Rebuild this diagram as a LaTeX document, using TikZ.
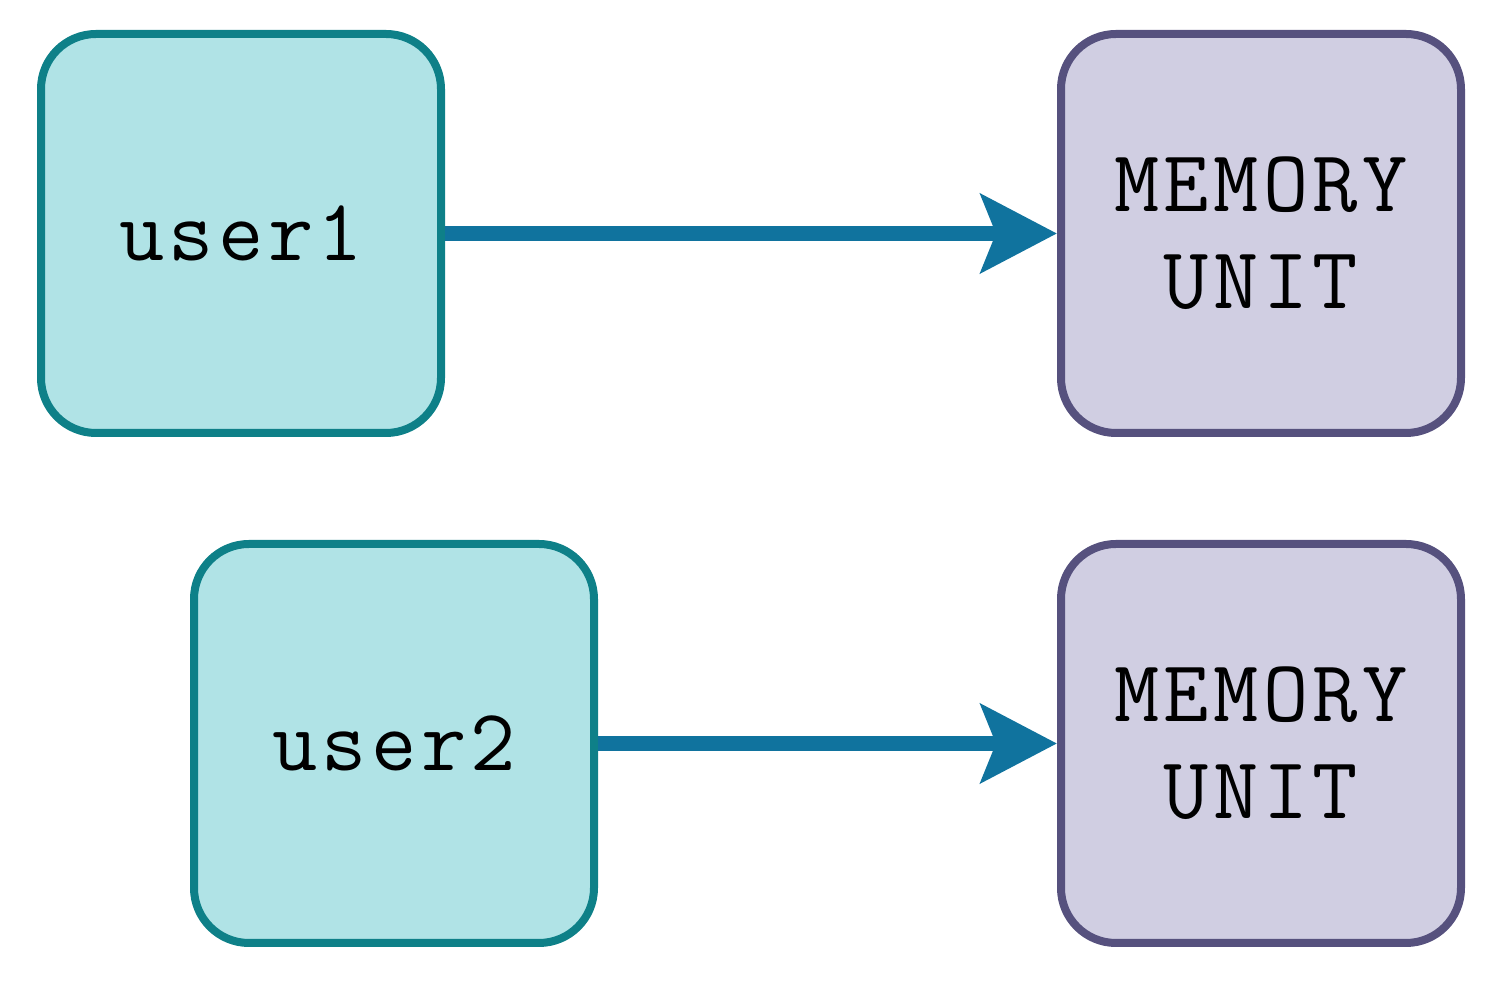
\documentclass[tikz,border=0pt]{standalone}
\usepackage{fontspec}
\newfontfamily\boxfont{Latin Modern Mono}[LetterSpace=5]
\usetikzlibrary{arrows.meta}
\definecolor{tealfill}{HTML}{B0E3E6}
\definecolor{tealdraw}{HTML}{0E8088}
\definecolor{purpfill}{HTML}{D0CEE2}
\definecolor{purpdraw}{HTML}{56517E}
\definecolor{arrowcol}{HTML}{10739E}
\tikzset{
  box/.style={minimum width=4.0cm, minimum height=3.99cm, rounded corners=0.55cm, line width=0.08cm, align=center, font=\boxfont\fontsize{25}{27.6}\selectfont, inner sep=0pt},
  userbox/.style={box, fill=tealfill, draw=tealdraw},
  membox/.style={box, fill=purpfill, draw=purpdraw},
  conn/.style={draw=arrowcol, line width=0.15cm, -{Stealth[length=0.76cm, width=0.78cm, inset=0.15cm]}}
}
\begin{document}
\begin{tikzpicture}
\useasboundingbox (0,0) rectangle (14.94,9.90);
\node[userbox] (u1) at (2.41,7.565) {user1};
\node[membox] (m1) at (12.61,7.565) {MEMORY\\UNIT};
\node[userbox] (u2) at (3.94,2.465) {user2};
\node[membox] (m2) at (12.61,2.465) {MEMORY\\UNIT};
\draw[conn] (u1) -- (m1);
\draw[conn] (u2) -- (m2);
\end{tikzpicture}
\end{document}
